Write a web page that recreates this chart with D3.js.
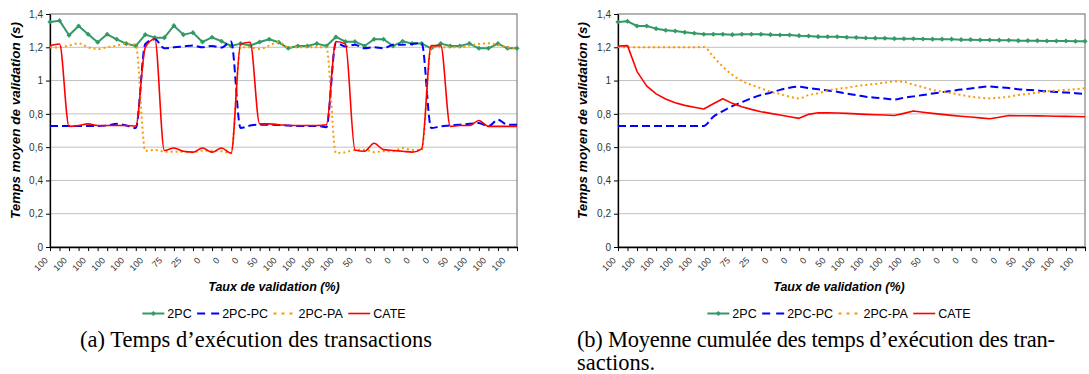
<!DOCTYPE html>
<html><head><meta charset="utf-8">
<script src="https://cdn.jsdelivr.net/npm/d3@7"></script>
<style>body{margin:0;background:#fff;} svg{display:block;}</style>
</head><body>
<svg id="c" width="1089" height="374"></svg>
<script>
// ---------- DATA ----------
const xTickLabels = ["100","100","100","100","100","100","75","25","0","0","0","50","100",
                     "100","100","100","50","0","0","0","0","50","100","100","100"];
const yTicks = [0, 0.2, 0.4, 0.6, 0.8, 1.0, 1.2, 1.4];
const seriesNames = ["2PC", "2PC-PC", "2PC-PA", "CATE"];

// (a) execution time per transaction (s)
const exec2PC = [1.352,1.36,1.272,1.328,1.278,1.23,1.278,1.248,1.222,1.208,
                 1.276,1.258,1.258,1.33,1.276,1.288,1.232,1.26,1.236,1.208,
                 1.222,1.21,1.232,1.248,1.23,1.194,1.208,1.208,1.222,1.208,
                 1.262,1.234,1.234,1.208,1.248,1.248,1.208,1.236,1.222,1.222,
                 1.194,1.222,1.208,1.208,1.222,1.194,1.194,1.222,1.194,1.194];
const exec2PCPC = [0.727,0.727,0.727,0.727,0.727,0.727,0.73,0.74,0.73,0.715,
                   1.22,1.248,1.194,1.2,1.205,1.21,1.2,1.208,1.198,1.235,
                   0.715,0.73,0.735,0.735,0.733,0.73,0.727,0.727,0.727,0.72,
                   1.228,1.205,1.215,1.194,1.2,1.194,1.215,1.215,1.22,1.225,
                   0.715,0.725,0.73,0.735,0.74,0.745,0.725,0.765,0.735,0.735];
const exec2PCPA = [1.198,1.2,1.21,1.224,1.2,1.19,1.2,1.21,1.222,1.215,
                   0.578,0.583,0.573,0.573,0.572,0.57,0.579,0.579,0.575,0.563,
                   1.2,1.2,1.19,1.21,1.232,1.2,1.2,1.2,1.2,1.2,
                   0.565,0.57,0.583,0.585,0.57,0.575,0.575,0.595,0.583,0.585,
                   1.2,1.2,1.2,1.2,1.21,1.22,1.224,1.215,1.2,1.195];
const execCATE = [1.21,1.22,0.725,0.73,0.74,0.73,0.73,0.73,0.73,0.727,
                  1.2,1.25,0.58,0.595,0.575,0.57,0.595,0.57,0.595,0.563,
                  1.22,1.23,0.74,0.74,0.735,0.73,0.73,0.73,0.73,0.735,
                  1.235,1.22,0.583,0.575,0.623,0.585,0.58,0.575,0.57,0.59,
                  1.21,1.21,0.725,0.73,0.73,0.76,0.725,0.725,0.725,0.725];

// (b) cumulative mean of execution time (s)
const cum2PC = [1.352,1.356,1.328,1.328,1.312,1.302,1.298,1.29,1.284,1.278,
                1.278,1.278,1.276,1.278,1.278,1.278,1.276,1.274,1.274,1.27,
                1.268,1.264,1.263,1.263,1.26,1.259,1.256,1.255,1.254,1.252,
                1.251,1.251,1.25,1.249,1.249,1.249,1.246,1.246,1.244,1.244,
                1.243,1.242,1.24,1.24,1.24,1.238,1.238,1.238,1.236,1.236];
const cum2PCPC = [0.727,0.727,0.727,0.727,0.727,0.727,0.727,0.727,0.727,0.727,
                  0.783,0.817,0.847,0.87,0.894,0.913,0.927,0.944,0.957,0.963,
                  0.954,0.948,0.94,0.933,0.922,0.913,0.903,0.897,0.892,0.886,
                  0.897,0.905,0.913,0.922,0.93,0.938,0.946,0.952,0.96,0.965,
                  0.96,0.955,0.948,0.944,0.94,0.935,0.932,0.928,0.924,0.92];
const cum2PCPA = [1.2,1.2,1.2,1.2,1.2,1.2,1.2,1.2,1.2,1.202,
                  1.144,1.084,1.034,0.998,0.974,0.954,0.933,0.92,0.903,0.893,
                  0.913,0.924,0.94,0.95,0.957,0.967,0.974,0.98,0.987,0.996,
                  0.992,0.975,0.96,0.944,0.934,0.924,0.914,0.903,0.897,0.893,
                  0.897,0.903,0.913,0.92,0.927,0.935,0.94,0.944,0.948,0.954];
const cumCATE = [1.208,1.21,1.054,0.968,0.92,0.889,0.867,0.851,0.84,0.829,
                 0.861,0.891,0.863,0.843,0.827,0.813,0.803,0.793,0.783,0.773,
                 0.797,0.807,0.806,0.805,0.803,0.8,0.797,0.795,0.793,0.79,
                 0.803,0.817,0.81,0.803,0.797,0.791,0.786,0.781,0.776,0.771,
                 0.78,0.79,0.789,0.789,0.788,0.787,0.786,0.785,0.784,0.783];

const yTitle = "Temps moyen de validation (s)";
const xTitle = "Taux de validation (%)";
const captionA = "(a) Temps d\u2019exécution des transactions";
const captionB1 = "(b) Moyenne cumulée des temps d\u2019exécution des tran-";
const captionB2 = "sactions.";

// ---------- STYLES ----------
const styles = [
  {color:"#339966", dash:null,  width:2,   marker:true},
  {color:"#0000ff", dash:"8,4", width:2,   marker:false},
  {color:"#ff9900", dash:"2,3", width:2,   marker:false},
  {color:"#ff0000", dash:null,  width:1.6, marker:false}
];
const SANS = "'Liberation Sans', Arial, sans-serif";
const loc = d3.formatLocale({decimal:",", thousands:" ", grouping:[3], currency:["","€"]});
const fmt = loc.format(".1~f");

const svg = d3.select("#c");
const nCat = exec2PC.length;

function drawChart(cfg) {
  const {x0, x1, y0, y1, data, curves, center, titleX} = cfg;
  const g = svg.append("g");
  const x = d3.scalePoint().domain(d3.range(nCat)).range([x0, x1]);
  const y = d3.scaleLinear().domain([0, 1.4]).range([y1, y0]);

  // gridlines
  g.append("g").selectAll("line").data(yTicks.filter(v => v > 0 && v < 1.4)).join("line")
    .attr("x1", x0).attr("x2", x1).attr("y1", d => y(d)).attr("y2", d => y(d))
    .attr("stroke", "#c0c0c0").attr("stroke-width", 1);
  // plot border
  g.append("rect").attr("x", x0).attr("y", y0).attr("width", x1 - x0).attr("height", y1 - y0)
    .attr("fill", "none").attr("stroke", "#808080").attr("stroke-width", 1.2);

  // y axis
  const ya = g.append("g").attr("transform", `translate(${x0},0)`)
    .call(d3.axisLeft(y).tickValues(yTicks).tickFormat(fmt).tickSize(4).tickSizeOuter(0).tickPadding(3));
  ya.select(".domain").attr("stroke", "#000").attr("stroke-width", 1.3);
  ya.selectAll(".tick line").attr("stroke", "#000");
  ya.selectAll("text").attr("font-family", SANS).attr("font-size", 10).attr("fill", "#333");

  // x axis
  const xa = g.append("g").attr("transform", `translate(0,${y1})`)
    .call(d3.axisBottom(x).tickSize(4).tickSizeOuter(0)
      .tickFormat(i => (i % 2 === 0 && xTickLabels[i / 2] !== undefined) ? xTickLabels[i / 2] : ""));
  xa.select(".domain").attr("stroke", "#000").attr("stroke-width", 1.3);
  xa.selectAll(".tick line").attr("stroke", "#000");
  xa.selectAll("text").attr("font-family", SANS).attr("font-size", 9).attr("fill", "#333")
    .attr("x", 0).attr("y", 0).attr("dy", 0).attr("text-anchor", "end")
    .attr("transform", "translate(-2,14) rotate(-45)");

  // series
  data.forEach((vals, k) => {
    const st = styles[k];
    const line = d3.line().x((d, i) => x(i)).y(d => y(d)).curve(curves[k]);
    const p = g.append("path").datum(vals).attr("d", line).attr("fill", "none")
      .attr("stroke", st.color).attr("stroke-width", st.width).attr("stroke-linejoin", "round");
    if (st.dash) p.attr("stroke-dasharray", st.dash);
    if (st.marker) {
      g.append("g").selectAll("path").data(vals).join("path")
        .attr("d", d3.symbol(d3.symbolSquare, 13))
        .attr("transform", (d, i) => `translate(${x(i)},${y(d)}) rotate(45)`)
        .attr("fill", st.color);
    }
  });

  // axis titles
  g.append("text").attr("transform", `translate(${titleX},${(y0 + y1) / 2 - 10}) rotate(-90)`)
    .attr("text-anchor", "middle").attr("font-family", SANS).attr("font-size", 13.5)
    .attr("font-weight", "bold").attr("font-style", "italic").text(yTitle);
  g.append("text").attr("x", center).attr("y", 291).attr("text-anchor", "middle")
    .attr("font-family", SANS).attr("font-size", 12.5)
    .attr("font-weight", "bold").attr("font-style", "italic").text(xTitle);

  // legend
  const lg = g.append("g");
  let xp = 0;
  seriesNames.forEach((name, k) => {
    const st = styles[k];
    const ln = lg.append("line").attr("x1", xp).attr("x2", xp + 22).attr("y1", 0).attr("y2", 0)
      .attr("stroke", st.color).attr("stroke-width", st.width);
    if (st.dash) ln.attr("stroke-dasharray", k === 1 ? "8,6" : "3,5");
    if (st.marker) lg.append("path").attr("d", d3.symbol(d3.symbolSquare, 13))
      .attr("transform", `translate(${xp + 11},0) rotate(45)`).attr("fill", st.color);
    const t = lg.append("text").attr("x", xp + 25).attr("y", 4.5).attr("font-family", SANS)
      .attr("font-size", 12.5).attr("fill", "#000").text(name);
    xp += 25 + t.node().getComputedTextLength() + 5.5;
  });
  const total = xp - 5.5;
  lg.attr("transform", `translate(${center - total / 2},313.5)`);
}

drawChart({x0: 50, x1: 517, y0: 14, y1: 247, center: 274, titleX: 20,
  data: [exec2PC, exec2PCPC, exec2PCPA, execCATE],
  curves: [d3.curveLinear, d3.curveMonotoneX, d3.curveMonotoneX, d3.curveMonotoneX]});
drawChart({x0: 618, x1: 1085, y0: 14, y1: 247, center: 839, titleX: 587,
  data: [cum2PC, cum2PCPC, cum2PCPA, cumCATE],
  curves: [d3.curveLinear, d3.curveMonotoneX, d3.curveMonotoneX, d3.curveLinear]});

// captions
const SERIF = "'Liberation Serif', 'Times New Roman', serif";
svg.append("text").attr("x", 80).attr("y", 347).attr("font-family", SERIF).attr("font-size", 22.5)
  .attr("textLength", 352).attr("lengthAdjust", "spacing").text(captionA);
svg.append("text").attr("x", 577).attr("y", 347).attr("font-family", SERIF).attr("font-size", 22.5)
  .attr("textLength", 478).attr("lengthAdjust", "spacing").text(captionB1);
svg.append("text").attr("x", 577).attr("y", 370).attr("font-family", SERIF).attr("font-size", 22.5)
  .text(captionB2);
</script>
</body></html>
